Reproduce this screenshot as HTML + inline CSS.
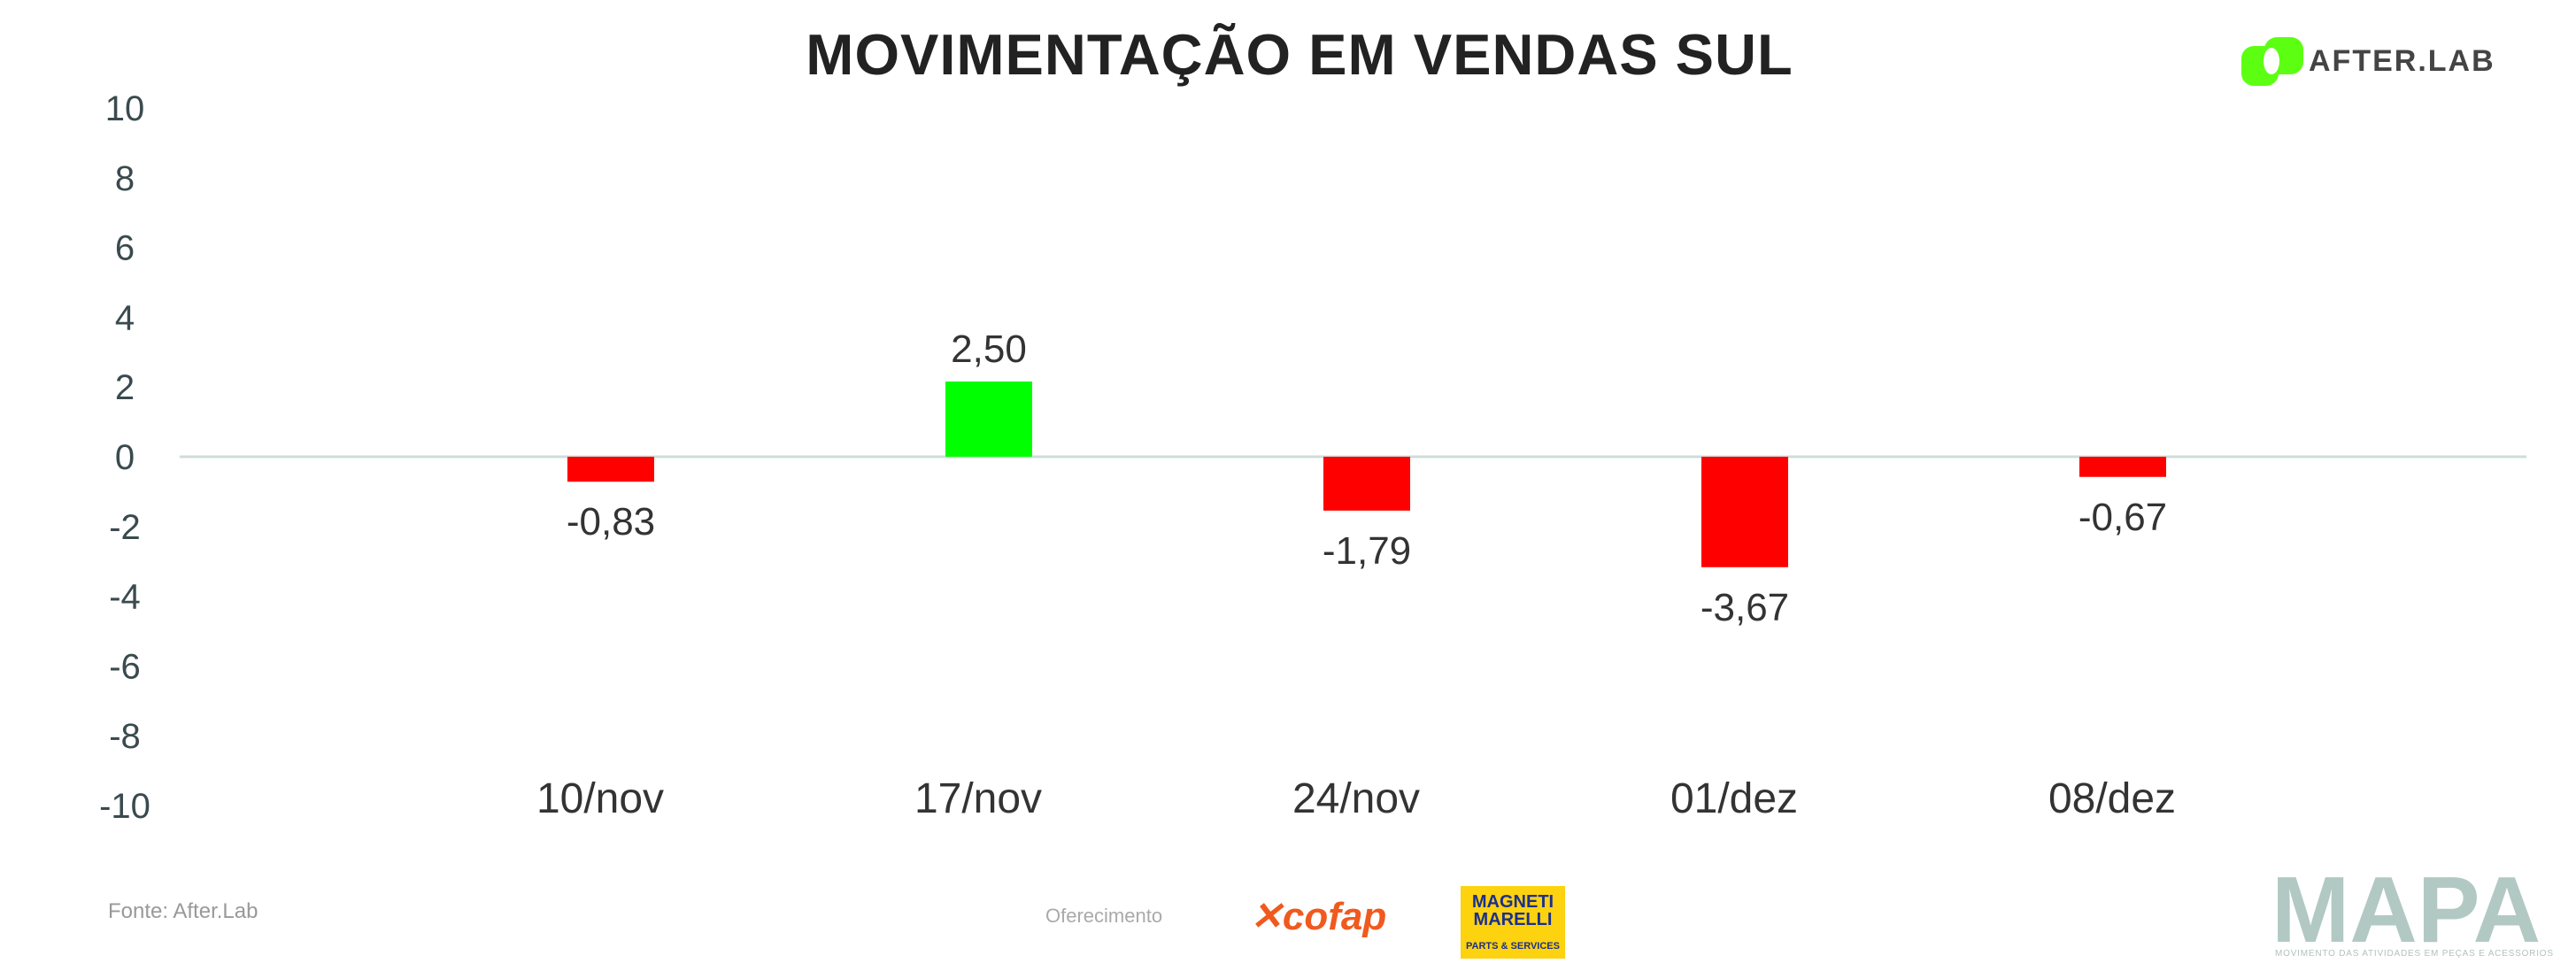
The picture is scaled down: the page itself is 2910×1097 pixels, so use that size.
<!DOCTYPE html>
<html><head><meta charset="utf-8"><style>
html,body{margin:0;padding:0;background:#fff;}
body{width:2910px;height:1097px;position:relative;overflow:hidden;font-family:"Liberation Sans",sans-serif;}
.abs{position:absolute;}
</style></head><body>
<div class="abs" style="left:0;width:2936px;top:24px;text-align:center;font-weight:bold;font-size:65px;color:#222;letter-spacing:1px;">MOVIMENTAÇÃO EM VENDAS SUL</div>
<div class="abs" style="left:2532px;top:42px;">
 <svg width="70" height="55" viewBox="0 0 70 55"><rect x="0" y="10" width="42" height="45" rx="14" fill="#5cff12"/><rect x="26" y="0" width="44" height="42" rx="14" fill="#5cff12"/><ellipse cx="34" cy="27" rx="9" ry="15" fill="#fff"/></svg>
</div>
<div class="abs" style="left:2608px;top:50px;font-weight:bold;font-size:34px;color:#444;letter-spacing:2px;">AFTER.LAB</div>
<svg class="abs" style="left:0;top:0" width="2910" height="1097" id="chart"></svg>
<div class="abs" style="left:122px;top:1016px;font-size:24px;color:#999;">Fonte: After.Lab</div>
<div class="abs" style="left:1181px;top:1022px;font-size:22px;color:#aaa;">Oferecimento</div>
<div class="abs" style="left:1412px;top:1010px;font-size:44px;font-style:italic;font-weight:bold;color:#f05a1e;">✕cofap</div>
<div class="abs" style="left:1650px;top:1001px;width:118px;height:82px;background:#fdd20e;color:#1b2f8f;font-weight:bold;text-align:center;">
 <div style="font-size:20px;line-height:20px;margin-top:8px;">MAGNETI<br>MARELLI</div>
 <div style="font-size:11px;margin-top:14px;">PARTS &amp; SERVICES</div>
</div>
<div class="abs" style="left:2566px;top:968px;font-size:106px;font-weight:bold;color:#b2c9c3;">MAPA</div>
<div class="abs" style="left:2570px;top:1072px;font-size:10px;color:#b2c2be;letter-spacing:0.8px;white-space:nowrap;">MOVIMENTO DAS ATIVIDADES EM PEÇAS E ACESSORIOS</div>
<script>
const categories = ["10/nov","17/nov","24/nov","01/dez","08/dez"];
const values = [-0.83, 2.50, -1.79, -3.67, -0.67];
const valueLabels = ["-0,83","2,50","-1,79","-3,67","-0,67"];
const yTicks = [10,8,6,4,2,0,-2,-4,-6,-8,-10];
const NS="http://www.w3.org/2000/svg";
const svg=document.getElementById('chart');
const zeroY=516;
function yTick(v){return zeroY - v*39.4;}
function yBar(v){return zeroY - v*34;}
function xCat(i){return 690 + i*427;}
function mk(tag,attrs,txt){const e=document.createElementNS(NS,tag);for(const k in attrs)e.setAttribute(k,attrs[k]);if(txt!==undefined)e.textContent=txt;svg.appendChild(e);return e;}
yTicks.forEach(t=>{
 const e=mk('text',{x:141,y:yTick(t)+14,'text-anchor':'middle','font-size':40,fill:'#3a4a4e','font-family':'Liberation Sans, sans-serif'},String(t));
 
 
});
const zl=mk('line',{x1:203,x2:2854,y1:zeroY,y2:zeroY,stroke:'#cfdcda','stroke-width':3});


values.forEach((v,i)=>{
 const cx=xCat(i), y=yBar(v);
 const r=mk('rect',{x:cx-49,width:98,y:Math.min(y,zeroY),height:Math.abs(zeroY-y),fill:v>=0?'#00ff00':'#ff0000'});
 
 
 const ly = v>=0 ? y-22 : y+60;
 const l=mk('text',{x:cx,y:ly,'text-anchor':'middle','font-size':44,fill:'#333','font-family':'Liberation Sans, sans-serif'},valueLabels[i]);
 
 
 const c=mk('text',{x:cx-12,y:918,'text-anchor':'middle','font-size':48,fill:'#333','font-family':'Liberation Sans, sans-serif'},categories[i]);
 
 
});
</script>
</body></html>
